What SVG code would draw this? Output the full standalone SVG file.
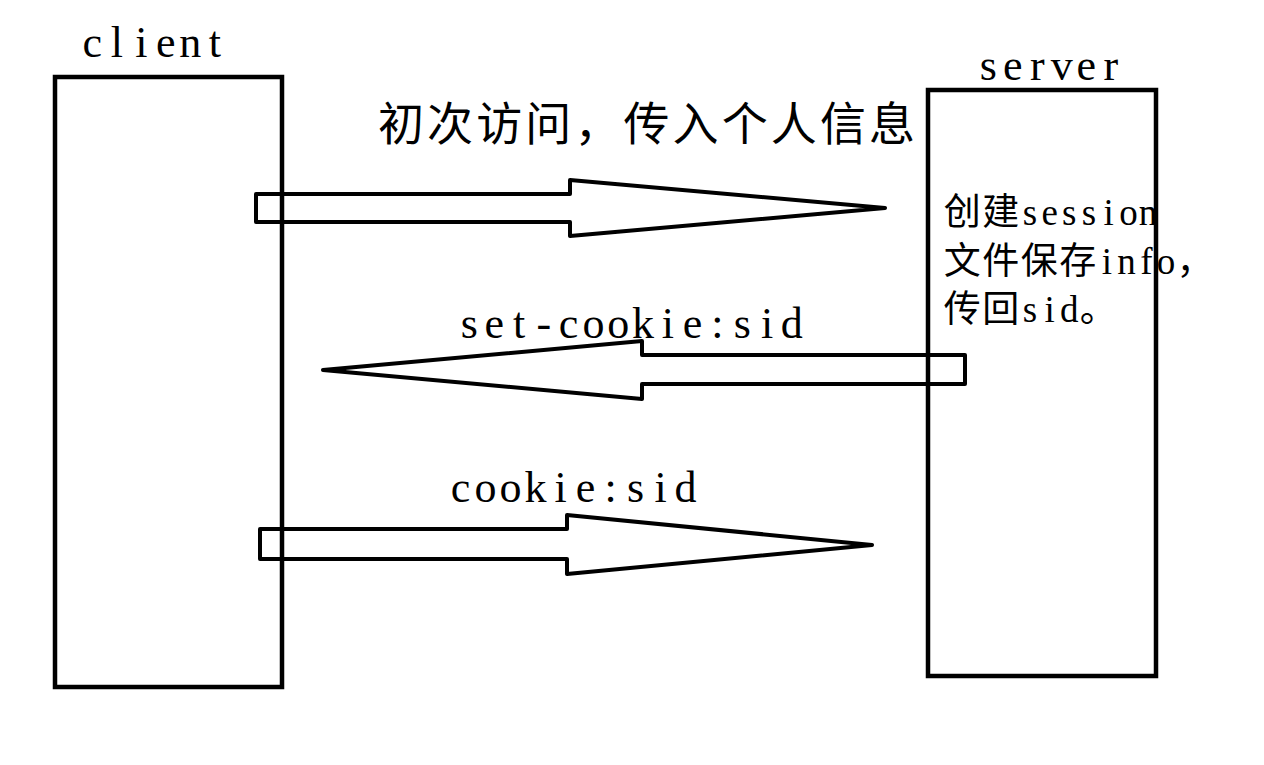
<svg xmlns="http://www.w3.org/2000/svg" width="1264" height="765" viewBox="0 0 1264 765">
<style>
.box{fill:none;stroke:#000;stroke-width:4.5}
.arr{fill:none;stroke:#000;stroke-width:4;stroke-linejoin:round}
.t{font-family:"Liberation Serif","Noto Sans CJK SC",serif;fill:#000;text-anchor:middle}
.lbl{font-size:44px}
.srv{font-size:37px}
</style>
<rect width="1264" height="765" fill="#fff"/>
<g id="client">
<rect class="box" x="55" y="77" width="227" height="610"/>
<text class="t lbl" x="92.3 116.8 141.3 165.8 190.3 214.8" y="57">client</text>
</g>
<g id="server">
<rect class="box" x="928" y="90" width="228" height="586"/>
<text class="t lbl" x="988.3 1012.8 1037.3 1061.8 1086.3 1110.8" y="80">server</text>
<text class="t srv" x="962.3 1000.8 1029.9 1049.6 1069.3 1089 1108.7 1128.4 1148.1" y="225">创建session</text>
<text class="t srv" x="962.3 1000.8 1039.3 1077.8 1106.9 1126.6 1146.3 1166 1194.9" y="274">文件保存info，</text>
<text class="t srv" x="962.3 1000.8 1029.9 1049.6 1069.3 1098.3" y="322">传回sid。</text>
</g>
<g id="connectors">
<polygon class="arr" points="256,194 570,194 570,180 885,208 570,236 570,222 256,222"/>
<polygon class="arr" points="965,355 642,355 642,341 323,370 642,399 642,384 965,384"/>
<polygon class="arr" points="260,529 567,529 567,515 872,545 567,574 567,559 260,559"/>
</g>
<g id="labels">
<text class="t" x="378" y="140" font-size="46" textLength="537" lengthAdjust="spacing" style="text-anchor:start">初次访问，传入个人信息</text>
<text class="t lbl" x="469.4 494.2 519 543.8 568.6 593.4 618.2 643 667.8 692.6 717.4 742.2 767 791.8" y="338">set-cookie:sid</text>
<text class="t lbl" x="460.5 485.5 510.5 535.5 560.5 585.5 610.5 635.5 660.5 685.5" y="502">cookie:sid</text>
</g>
</svg>
